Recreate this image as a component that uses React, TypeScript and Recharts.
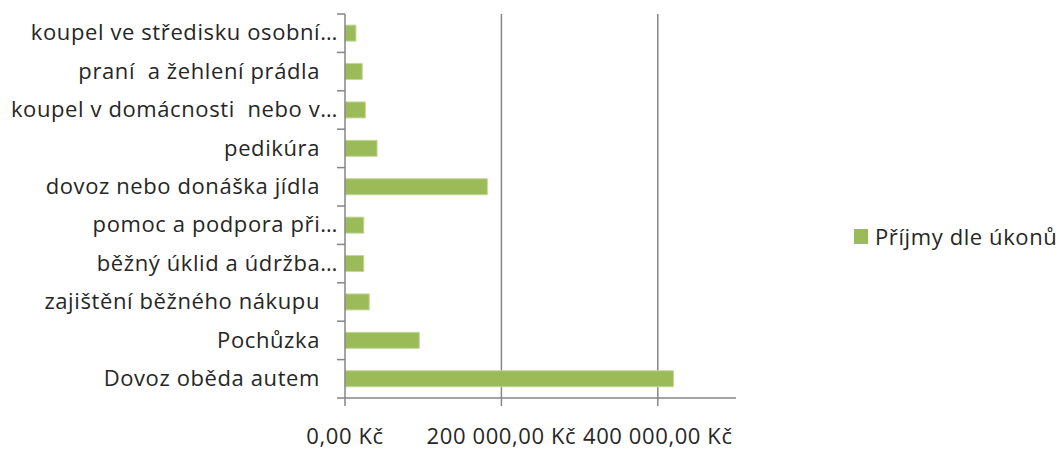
import { BarChart, Bar, XAxis, YAxis, CartesianGrid } from 'recharts';

const categories = [
  'koupel ve středisku osobní…',
  'praní  a žehlení prádla',
  'koupel v domácnosti  nebo v…',
  'pedikúra',
  'dovoz nebo donáška jídla',
  'pomoc a podpora při…',
  'běžný úklid a údržba…',
  'zajištění běžného nákupu',
  'Pochůzka',
  'Dovoz oběda autem',
];

const prijmy = [14000, 22000, 26000, 41000, 182000, 24000, 24000, 31000, 95000, 420000];

const xTicks = [0, 200000, 400000];

const seriesName = 'Příjmy dle úkonů';

const data = categories.map((name, i) => ({ name, prijmy: prijmy[i] }));

const W = 1060;
const H = 450;
const X_AXIS_H = 30;
const MARGIN = { top: 14, right: 324, bottom: 52 - X_AXIS_H, left: 0 };
const Y_AXIS_W = 345;
const PLOT_LEFT = MARGIN.left + Y_AXIS_W;
const PLOT_H = H - MARGIN.top - MARGIN.bottom - X_AXIS_H;
const FONT = '"Open Sans", sans-serif';
const FONT_SIZE = 22;
const SPACING = 0.6;
const GRAY = '#868686';
const TEXT = '#262626';
const BAR = '#9BBB59';

const formatKc = (v: number) => {
  const int = Math.round(v)
    .toString()
    .replace(/\B(?=(\d{3})+(?!\d))/g, ' ');
  return `${int},00 Kč`;
};

const CategoryTick = (props: any) => {
  const { y, payload, index } = props;
  const band = PLOT_H / categories.length;
  const label: string = payload.value;
  const truncated = label.endsWith('…');
  return (
    <g>
      <line x1={PLOT_LEFT - 8} x2={PLOT_LEFT} y1={y - band / 2} y2={y - band / 2} stroke={GRAY} strokeWidth={1.5} />
      {index === categories.length - 1 && (
        <line x1={PLOT_LEFT - 8} x2={PLOT_LEFT} y1={y + band / 2} y2={y + band / 2} stroke={GRAY} strokeWidth={1.5} />
      )}
      <text
        x={truncated ? PLOT_LEFT - 7 : PLOT_LEFT - 25}
        y={y}
        dy="0.33em"
        textAnchor="end"
        fill={TEXT}
        fontSize={FONT_SIZE}
        fontFamily={FONT}
        letterSpacing={SPACING}
        style={{ whiteSpace: 'pre' }}
      >
        {label}
      </text>
    </g>
  );
};

export default function App() {
  return (
    <div style={{ position: 'absolute', left: 0, top: 0, width: W, height: H, background: '#fff' }}>
      <BarChart width={W} height={H} data={data} layout="vertical" margin={MARGIN} barCategoryGap="29%">
        <CartesianGrid horizontal={false} stroke={GRAY} strokeWidth={1.5} verticalValues={[200000, 400000]} />
        <XAxis
          type="number"
          domain={[0, 500000]}
          ticks={xTicks}
          tickFormatter={formatKc}
          height={X_AXIS_H}
          axisLine={{ stroke: GRAY, strokeWidth: 1.5 }}
          tickLine={{ stroke: GRAY, strokeWidth: 1.5 }}
          tickSize={8}
          tickMargin={22}
          tick={{ fill: TEXT, fontSize: FONT_SIZE, fontFamily: FONT, letterSpacing: SPACING }}
          interval={0}
        />
        <YAxis
          type="category"
          dataKey="name"
          width={Y_AXIS_W}
          axisLine={{ stroke: GRAY, strokeWidth: 1.5 }}
          tickLine={false}
          tick={<CategoryTick />}
          interval={0}
        />
        <Bar dataKey="prijmy" name={seriesName} fill={BAR} stroke="#C3D69B" strokeWidth={1} isAnimationActive={false} />
      </BarChart>
      <div
        style={{
          position: 'absolute',
          left: 854,
          top: 221,
          display: 'flex',
          alignItems: 'center',
          gap: 7,
          fontFamily: FONT,
          fontSize: FONT_SIZE,
          letterSpacing: SPACING,
          color: TEXT,
          whiteSpace: 'nowrap',
          lineHeight: '30px',
        }}
      >
        <span style={{ display: 'inline-block', width: 14, height: 15, background: BAR }} />
        {seriesName}
      </div>
    </div>
  );
}
